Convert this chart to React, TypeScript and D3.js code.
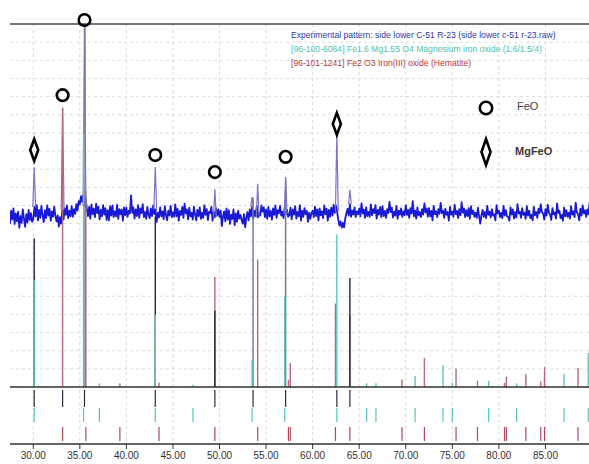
import React from 'react';
import * as d3 from 'd3';

const W = 589;
const H = 464;

// experimental scan background, read every 0.125 deg from 27.5 deg
const scanStart = 27.5;
const scanStep = 0.125;
const scanCounts = [
  45.0, 48.6, 46.1, 49.2, 44.9, 47.8, 45.6, 48.3, 43.9, 47.1, 45.2, 48.9, 46.4, 44.1, 47.6, 45.3, 48.8, 46.0, 47.9, 45.5,
  46.2, 49.6, 47.0, 50.1, 45.9, 48.8, 46.6, 49.9, 47.3, 45.4, 48.7, 46.5, 50.0, 47.2, 49.1, 45.8, 48.4, 46.9, 49.7, 47.1,
  45.6, 47.3, 44.2, 46.8, 45.0, 48.9, 46.1, 49.3, 47.4, 50.0, 46.5, 48.6, 47.0, 49.8, 46.9, 49.0, 47.7, 50.4, 48.6, 51.2,
  50.3, 52.6, 51.0, 53.0, 49.8, 51.9, 49.2, 47.1, 49.6, 46.4, 50.3, 47.6, 49.1, 46.8, 50.5, 47.9, 49.7, 46.2, 48.8, 47.0,
  50.1, 47.5, 49.3, 46.0, 48.7, 45.9, 49.8, 47.2, 50.0, 46.8, 48.4, 47.0, 50.2, 46.3, 49.0, 47.6, 48.9, 45.8, 49.5, 47.3,
  49.4, 46.9, 48.6, 47.8, 52.8, 48.0, 49.5, 46.4, 48.9, 47.1, 50.1, 46.6, 49.2, 47.9, 50.4, 46.8, 48.2, 46.3, 49.6, 47.4,
  46.5, 49.2, 47.1, 50.0, 47.6, 48.9, 45.5, 48.0, 46.7, 49.5, 47.0, 48.4, 46.2, 49.8, 47.3, 45.9, 48.6, 47.2, 49.9, 46.8,
  48.1, 46.9, 50.3, 47.0, 49.1, 45.8, 48.5, 47.4, 49.6, 46.6, 50.5, 47.8, 48.9, 46.2, 49.4, 47.0, 48.0, 46.1, 49.7, 47.5,
  45.9, 48.8, 47.1, 49.5, 46.3, 48.0, 46.6, 50.1, 47.4, 49.0, 46.0, 48.3, 47.9, 49.6, 45.8, 48.2, 46.8, 49.3, 47.2, 48.9,
  46.9, 48.6, 44.3, 47.0, 48.4, 45.6, 49.2, 46.1, 48.7, 44.9, 47.5, 46.3, 48.9, 44.6, 47.8, 45.5, 48.6, 46.4, 47.4, 45.9,
  45.0, 47.6, 44.0, 46.5, 48.2, 45.9, 48.9, 47.0, 49.6, 46.4, 48.5, 47.1, 49.8, 46.7, 48.0, 47.2, 50.0, 48.3, 49.5, 46.8,
  48.9, 46.3, 49.6, 47.0, 48.5, 46.1, 49.2, 47.4, 50.0, 46.6, 48.7, 47.8, 49.9, 47.2, 48.3, 46.5, 49.5, 47.7, 48.8, 46.9,
  47.3, 49.4, 46.2, 48.9, 47.5, 49.8, 46.4, 48.2, 47.0, 50.1, 45.8, 48.6, 46.9, 49.3, 47.6, 48.5, 45.5, 48.0, 46.3, 47.9,
  48.6, 46.8, 49.7, 47.1, 48.9, 45.9, 49.2, 47.3, 48.4, 46.5, 50.0, 47.6, 49.1, 45.8, 48.8, 46.9, 49.4, 47.2, 50.2, 48.0,
  50.0, 48.4, 46.1, 44.5, 45.6, 43.9, 45.2, 44.0, 46.4, 47.8, 49.1, 47.2, 50.4, 46.9, 48.6, 47.5, 49.5, 46.8, 48.4, 47.6,
  49.2, 47.0, 50.6, 47.8, 48.9, 46.6, 49.5, 47.1, 48.2, 46.9, 50.3, 47.3, 49.0, 47.9, 50.1, 46.4, 48.8, 47.5, 49.6, 46.8,
  49.8, 47.1, 48.5, 46.6, 49.0, 47.9, 51.0, 48.2, 49.4, 46.7, 48.3, 47.2, 49.9, 46.3, 48.6, 47.5, 49.2, 46.9, 48.4, 47.3,
  50.1, 47.4, 48.8, 46.6, 49.3, 47.8, 51.2, 47.0, 48.6, 46.4, 49.5, 47.3, 48.2, 46.8, 49.0, 47.5, 50.6, 48.1, 49.2, 46.9,
  49.3, 47.0, 48.5, 45.9, 49.9, 47.6, 48.4, 46.8, 49.0, 47.7, 50.7, 47.9, 48.6, 46.6, 49.1, 47.4, 48.2, 45.8, 49.6, 47.5,
  48.3, 46.9, 50.2, 47.6, 48.5, 46.5, 49.0, 47.3, 50.9, 48.0, 49.2, 46.8, 48.7, 47.1, 49.3, 46.3, 49.8, 47.6, 48.6, 46.9,
  48.0, 46.6, 49.4, 47.0, 45.0, 47.3, 48.8, 46.9, 48.2, 46.5, 49.9, 47.4, 48.3, 46.7, 49.0, 47.2, 47.6, 45.9, 50.1, 47.8,
  48.6, 46.8, 48.0, 46.5, 49.9, 47.2, 48.7, 47.0, 46.9, 45.8, 49.5, 47.5, 48.9, 46.4, 48.2, 46.7, 50.4, 47.8, 48.3, 46.6,
  49.3, 47.4, 48.0, 46.3, 49.8, 47.2, 48.6, 46.5, 47.4, 45.9, 49.6, 47.3, 48.2, 46.6, 49.1, 47.9, 50.3, 48.2, 47.8, 46.1,
  49.0, 47.2, 50.2, 48.0, 47.5, 46.0, 49.3, 47.6, 48.1, 46.4, 50.6, 47.9, 48.6, 46.5, 47.4, 45.8, 49.4, 47.0, 48.7, 46.9,
  48.0, 46.4, 49.8, 47.5, 48.4, 46.8, 50.8, 48.1, 47.6, 45.9, 49.1, 47.2, 50.0, 47.8, 48.7, 46.9, 48.9, 47.6, 50.9, 48.8,
];

// experimental peaks
const peakPos = [30.1, 33.15, 35.5, 43.1, 49.5, 53.5, 54.1, 57.1, 62.6, 64.0];
const peakTop = [60.6, 76.9, 100, 60.6, 54.5, 52.3, 56, 57.9, 70, 54.3];

// peak list sticks
const listPos = [30.1, 43.1, 49.5, 64.0];
const listTop = [41, 47, 21, 30];
const fitPos = [35.55, 53.6, 57.1];
const fitTop = [100, 52.3, 57];

// [96-100-6064] Fe1.6 Mg1.55 O4
const mgPos = [30.1, 35.4, 37.1, 43.1, 47.15, 53.5, 57.0, 62.6, 65.8, 66.8, 71.0, 74.0, 75.0, 78.9, 81.9, 87.0, 89.6];
const mgTop = [29.5, 70, 1, 20, 0.6, 7.5, 25, 42, 1, 1, 3, 6, 1.2, 1.7, 1, 3.6, 9.4];

// [96-101-1241] Fe2 O3 hematite
const hemPos = [33.15, 35.65, 39.3, 43.5, 49.5, 54.1, 57.4, 57.6, 62.45, 64.0, 69.6, 72.0, 75.4, 77.7, 80.6, 80.8, 82.9, 84.5, 84.9, 88.5];
const hemTop = [76.9, 54, 1, 1.2, 30.3, 35, 2, 6.6, 23, 20, 2, 8, 5, 1.7, 1.1, 2.8, 3.6, 1.5, 5.5, 5.2];

// bottom stick rows
const rowListPos = [30.1, 33.15, 35.5, 43.1, 49.5, 53.6, 57.1, 62.6, 64.0];

const xTicks = [30, 35, 40, 45, 50, 55, 60, 65, 70, 75, 80, 85];
const yGrid = d3.range(0, 101, 5);

const feoPos = [33.15, 35.5, 43.1, 49.5, 57.1];
const feoLevel = [80.4, 101.1, 63.9, 59.2, 63.4];
const mgfeoPos = [30.1, 62.6];
const mgfeoLevel = [65.3, 72.5];

const legendLines = [
  'Experimental pattern: side lower C-51 R-23 (side lower c-51 r-23.raw)',
  '[96-100-6064] Fe1.6 Mg1.55 O4 Magnesium iron oxide (1.6/1.5/4)',
  '[96-101-1241] Fe2 O3 Iron(III) oxide (Hematite)',
];
const legendColors = ['#2e3aa6', '#4cc2b0', '#b23a3a'];

const font = '"Liberation Sans", Arial, sans-serif';

const diamond = (cx: number, cy: number, hw: number, hh: number) =>
  `M${cx},${cy - hh}L${cx + hw},${cy}L${cx},${cy + hh}L${cx - hw},${cy}Z`;

export default function App() {
  const x = d3.scaleLinear().domain([27.5, 90]).range([10, 592]);
  const y = d3.scaleLinear().domain([0, 100]).range([387, 24]);

  const line = d3
    .line<number>()
    .x((_, i) => x(scanStart + i * scanStep))
    .y((d) => y(d));

  const baseAt = (p: number) => scanCounts[Math.round((p - scanStart) / scanStep)];

  const sticks = (pos: number[], top: number[], color: string, w: number) =>
    pos.map((p, i) => (
      <line key={p + '-' + i} x1={x(p)} x2={x(p)} y1={y(0)} y2={y(top[i])} stroke={color} strokeWidth={w} />
    ));

  const rowSticks = (pos: number[], y1: number, y2: number, color: string) =>
    pos.map((p, i) => (
      <line key={'r' + p + '-' + i} x1={x(p)} x2={x(p)} y1={y1} y2={y2} stroke={color} strokeWidth={1.2} />
    ));

  return (
    <svg width={W} height={H} style={{ position: 'absolute', left: 0, top: 0, background: '#fff' }}>
      <defs>
        <clipPath id="pane">
          <rect x={10} y={22} width={580} height={366} />
        </clipPath>
      </defs>
      <rect width={W} height={H} fill="#fff" />

      {/* grid */}
      {yGrid.map((v) => (
        <line key={'g' + v} x1={10} x2={589} y1={y(v)} y2={y(v)} stroke="#d4d4d4" strokeDasharray="3,3" strokeWidth={0.8} />
      ))}
      {xTicks.map((t) => (
        <line key={'v' + t} x1={x(t)} x2={x(t)} y1={y(100)} y2={444} stroke="#cfcfcf" strokeDasharray="3,3" strokeWidth={0.8} />
      ))}

      <g clipPath="url(#pane)">
        {/* experimental pattern */}
        <path d={line(scanCounts) || ''} fill="none" stroke="#1a1ad6" strokeWidth={1.8} strokeLinejoin="round" />
        {peakPos.map((p, i) => {
          const b = baseAt(p);
          return (
            <path
              key={'pk' + p}
              d={`M${x(p - 0.15)},${y(b)}L${x(p)},${y(peakTop[i])}L${x(p + 0.15)},${y(b)}`}
              fill="none"
              stroke="#7c74c6"
              strokeWidth={1.2}
            />
          );
        })}

        {/* reference sticks */}
        {sticks(hemPos, hemTop, '#b46a7c', 1.4)}
        {sticks(fitPos, fitTop, '#7c7c98', 1.5)}
        {sticks(listPos, listTop, '#26263a', 1.4)}
        {sticks(mgPos, mgTop, '#5cc6ba', 1.4)}
      </g>

      {/* bottom stick rows */}
      {rowSticks(rowListPos, 390, 407, '#2a2a3a')}
      {rowSticks(mgPos, 408, 422, '#5cc6ba')}
      {rowSticks(hemPos, 427, 441, '#b0485a')}

      {/* frame lines */}
      <line x1={10} x2={589} y1={24} y2={24} stroke="#4a4a4a" strokeWidth={1.5} />
      <line x1={10} x2={589} y1={387} y2={387} stroke="#333" strokeWidth={1.5} />
      <line x1={10} x2={589} y1={444} y2={444} stroke="#333" strokeWidth={1.5} />
      {xTicks.map((t) => (
        <line key={'t' + t} x1={x(t)} x2={x(t)} y1={444} y2={449} stroke="#333" strokeWidth={1} />
      ))}
      {xTicks.map((t) => (
        <text key={'l' + t} x={x(t)} y={459} textAnchor="middle" fontFamily={font} fontSize={10} fill="#333">
          {d3.format('.2f')(t)}
        </text>
      ))}

      {/* legend */}
      {legendLines.map((s, i) => (
        <text key={'lg' + i} x={291} y={38 + i * 14} fontFamily={font} fontSize={8.6} fill={legendColors[i]}>
          {s}
        </text>
      ))}

      {/* phase markers */}
      {feoPos.map((p, i) => (
        <circle key={'c' + p} cx={x(p)} cy={y(feoLevel[i])} r={5.8} fill="none" stroke="#000" strokeWidth={2.6} />
      ))}
      {mgfeoPos.map((p, i) => (
        <path key={'d' + p} d={diamond(x(p), y(mgfeoLevel[i]), 4, 11)} fill="none" stroke="#000" strokeWidth={2.6} />
      ))}
      <circle cx={486} cy={108} r={6.2} fill="none" stroke="#000" strokeWidth={2.6} />
      <path d={diamond(486, 152, 4.5, 13)} fill="none" stroke="#000" strokeWidth={2.6} />
      <text x={517} y={110} fontFamily={font} fontSize={11} fill="#444">FeO</text>
      <text x={515} y={155} fontFamily={font} fontSize={11} fontWeight={600} fill="#3a3a3a">MgFeO</text>
    </svg>
  );
}
